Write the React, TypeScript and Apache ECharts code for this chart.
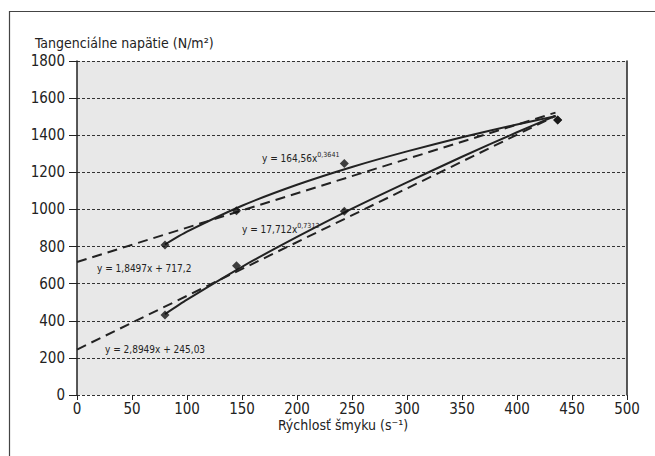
import React, { useEffect, useRef } from "react";
import * as echarts from "echarts";

// Measured points (shear rate s^-1, shear stress N/m^2)
const upperPoints: [number, number][] = [[80, 808], [145, 993], [243, 1248], [437, 1482]];
const lowerPoints: [number, number][] = [[80, 431], [145, 697], [243, 990], [437, 1482]];

// Power trendlines (solid)
const powerX = [80, 100, 150, 200, 250, 300, 350, 400, 435];
const powerUpperY = [811, 880, 1020, 1133, 1229, 1313, 1389, 1458, 1503];
const powerLowerY = [436, 514, 691, 852, 1004, 1146, 1284, 1416, 1505];

// Linear trendlines (dashed), end points
const linearX = [0, 435];
const linearUpperY = [717, 1522];
const linearLowerY = [245, 1504];

const eqLabels = [
  { base: "y = 164,56x", sup: "0,3641", x: 262, y: 158 },
  { base: "y = 17,712x", sup: "0,7312", x: 242, y: 229 },
  { base: "y = 1,8497x + 717,2", sup: "", x: 97, y: 268 },
  { base: "y = 2,8949x + 245,03", sup: "", x: 105, y: 349 },
];

const yTitle = "Tangenciálne napätie (N/m²)";
const xTitle = "Rýchlosť šmyku (s⁻¹)";

const FONT = "'Liberation Sans Narrow', 'DejaVu Sans Condensed', 'Arial Narrow', sans-serif";

export default function App() {
  const ref = useRef<HTMLDivElement>(null);
  useEffect(() => {
    if (!ref.current) return;
    const chart = echarts.init(ref.current, null, { renderer: "svg" });
    const zip = (xs: number[], ys: number[]) => xs.map((x, i) => [x, ys[i]]);
    const option: any = {
      animation: false,
      backgroundColor: "#ffffff",
      textStyle: { fontFamily: FONT },
      grid: {
        left: 77,
        top: 61,
        width: 550,
        height: 334,
        show: true,
        backgroundColor: "#e8e8e8",
        borderWidth: 0,
      },
      xAxis: {
        type: "value",
        min: 0,
        max: 500,
        interval: 50,
        axisLine: { show: false },
        axisTick: { show: true, length: 5, lineStyle: { color: "#222", width: 1 } },
        axisLabel: { margin: 6, fontSize: 15, color: "#222", fontFamily: FONT, formatter: (v: number) => String(v) },
        splitLine: { show: false },
      },
      yAxis: [
        {
          type: "value",
          min: 0,
          max: 1800,
          interval: 200,
          axisLine: { show: true, lineStyle: { color: "#222", width: 1.5 } },
          axisTick: { show: true, length: 8, lineStyle: { color: "#222", width: 1 } },
          axisLabel: { margin: 12, fontSize: 15, color: "#222", fontFamily: FONT, formatter: (v: number) => String(v) },
          splitLine: { show: true, lineStyle: { color: "#333", width: 1, type: [3, 2] } },
        },
        {
          type: "value",
          min: 0,
          max: 1800,
          interval: 200,
          position: "right",
          axisLine: { show: true, lineStyle: { color: "#222", width: 1.5 } },
          axisTick: { show: false },
          axisLabel: { show: false },
          splitLine: { show: false },
        },
      ],
      series: [
        {
          type: "line",
          data: zip(linearX, linearUpperY),
          symbol: "none",
          lineStyle: { color: "#222", width: 2, type: [10, 6] },
          z: 3,
        },
        {
          type: "line",
          data: zip(linearX, linearLowerY),
          symbol: "none",
          lineStyle: { color: "#222", width: 2, type: [10, 6] },
          z: 3,
        },
        {
          type: "line",
          data: zip(powerX, powerUpperY),
          symbol: "none",
          smooth: 0.2,
          lineStyle: { color: "#222", width: 2 },
          z: 4,
        },
        {
          type: "line",
          data: zip(powerX, powerLowerY),
          symbol: "none",
          smooth: 0.2,
          lineStyle: { color: "#222", width: 2 },
          z: 4,
        },
        {
          type: "scatter",
          data: upperPoints,
          symbol: "diamond",
          symbolSize: 9,
          itemStyle: { color: "#111" },
          z: 5,
        },
        {
          type: "scatter",
          data: lowerPoints,
          symbol: "diamond",
          symbolSize: 9,
          itemStyle: { color: "#111" },
          z: 5,
        },
      ],
      graphic: [
        {
          type: "rect",
          shape: { x: 9.5, y: 11.5, width: 720, height: 520 },
          style: { fill: "none", stroke: "#444", lineWidth: 1.2 },
          silent: true,
          z: -1,
        },
        {
          type: "text",
          x: 35,
          y: 43,
          style: {
            text: yTitle,
            font: `14px ${FONT}`,
            fill: "#222",
            verticalAlign: "middle",
          },
        },
        {
          type: "text",
          x: 343,
          y: 425,
          style: {
            text: xTitle,
            font: `14px ${FONT}`,
            fill: "#222",
            align: "center",
            verticalAlign: "middle",
          },
        },
        ...eqLabels.map((e) => ({
          type: "text",
          x: e.x,
          y: e.y,
          z: 10,
          style: {
            text: e.sup ? `{b|${e.base}}{s|${e.sup}}` : `{b|${e.base}}`,
            verticalAlign: "middle",
            fill: "#222",
            rich: {
              b: { fontSize: 10, fontFamily: FONT, fill: "#222", color: "#222" },
              s: {
                fontSize: 7,
                fontFamily: FONT,
                fill: "#222",
                color: "#222",
                verticalAlign: "bottom",
                padding: [0, 0, 7, 0],
              },
            },
          },
        })),
      ],
    };
    chart.setOption(option);
    return () => chart.dispose();
  }, []);
  return (
    <div
      ref={ref}
      style={{ position: "fixed", left: 0, top: 0, width: 655, height: 456 }}
    />
  );
}
